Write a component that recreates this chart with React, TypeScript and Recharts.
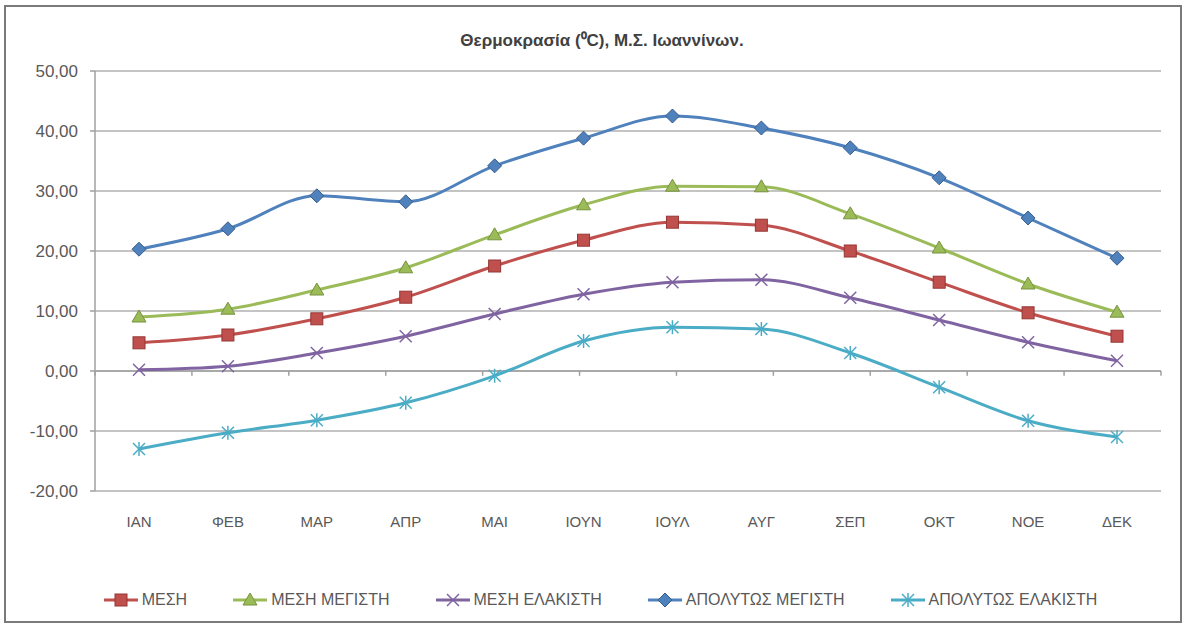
import { LineChart, Line, XAxis, YAxis, CartesianGrid, Legend, ReferenceLine } from "recharts";

const MONTHS = ["ΙΑΝ", "ΦΕΒ", "ΜΑΡ", "ΑΠΡ", "ΜΑΙ", "ΙΟΥΝ", "ΙΟΥΛ", "ΑΥΓ", "ΣΕΠ", "ΟΚΤ", "ΝΟΕ", "ΔΕΚ"];

const MESI = [4.7, 6.0, 8.7, 12.3, 17.5, 21.8, 24.8, 24.3, 20.0, 14.8, 9.7, 5.8];
const MESI_MEGISTI = [9.0, 10.3, 13.5, 17.2, 22.7, 27.7, 30.8, 30.7, 26.2, 20.5, 14.5, 9.8];
const MESI_ELAXISTI = [0.2, 0.8, 3.0, 5.8, 9.5, 12.8, 14.8, 15.2, 12.2, 8.5, 4.8, 1.7];
const APOL_MEGISTI = [20.3, 23.7, 29.2, 28.2, 34.2, 38.8, 42.5, 40.5, 37.2, 32.2, 25.5, 18.8];
const APOL_ELAXISTI = [-13.0, -10.3, -8.2, -5.3, -0.8, 5.0, 7.3, 7.0, 3.0, -2.7, -8.3, -11.0];

const Y_TICKS = [-20, -10, 0, 10, 20, 30, 40, 50];
// category boundaries on the 0 line (Excel style tick marks)
const BOUNDARIES = [0, 1, 2, 3, 4, 5, 6, 7, 8, 9, 10, 11, 12];

const SERIES = [
  { key: "mesi", name: "ΜΕΣΗ", color: "#C0504D", marker: "square" },
  { key: "mesiMax", name: "ΜΕΣΗ ΜΕΓΙΣΤΗ", color: "#9BBB59", marker: "triangle" },
  { key: "mesiMin", name: "ΜΕΣΗ ΕΛΑΚΙΣΤΗ", color: "#8064A2", marker: "x" },
  { key: "apolMax", name: "ΑΠΟΛΥΤΩΣ ΜΕΓΙΣΤΗ", color: "#4F81BD", marker: "diamond" },
  { key: "apolMin", name: "ΑΠΟΛΥΤΩΣ ΕΛΑΚΙΣΤΗ", color: "#4BACC6", marker: "star" },
];

const data = MONTHS.map((m, i) => ({
  month: m,
  mesi: MESI[i],
  mesiMax: MESI_MEGISTI[i],
  mesiMin: MESI_ELAXISTI[i],
  apolMax: APOL_MEGISTI[i],
  apolMin: APOL_ELAXISTI[i],
}));

const FONT = "'Liberation Sans', Arial, sans-serif";
const TEXT = "#595959";

function Marker({ type, color, cx, cy }: { type: string; color: string; cx: number; cy: number }) {
  if (cx == null || cy == null) return null;
  switch (type) {
    case "square":
      return <rect x={cx - 6} y={cy - 6} width={12} height={12} fill={color} stroke="#943634" strokeWidth={1} />;
    case "triangle":
      return <polygon points={`${cx},${cy - 7} ${cx + 7},${cy + 5} ${cx - 7},${cy + 5}`} fill={color} stroke="#77933C" strokeWidth={1} />;
    case "x":
      return (
        <g stroke={color} strokeWidth={1.5}>
          <line x1={cx - 6} y1={cy - 6} x2={cx + 6} y2={cy + 6} />
          <line x1={cx - 6} y1={cy + 6} x2={cx + 6} y2={cy - 6} />
        </g>
      );
    case "diamond":
      return <polygon points={`${cx},${cy - 7} ${cx + 7},${cy} ${cx},${cy + 7} ${cx - 7},${cy}`} fill={color} stroke="#385D8A" strokeWidth={1} />;
    case "star":
      return (
        <g stroke={color} strokeWidth={1.5}>
          <line x1={cx - 6} y1={cy - 6} x2={cx + 6} y2={cy + 6} />
          <line x1={cx - 6} y1={cy + 6} x2={cx + 6} y2={cy - 6} />
          <line x1={cx} y1={cy - 7} x2={cx} y2={cy + 7} />
        </g>
      );
    default:
      return null;
  }
}

const renderLegend = () => (
  <div
    style={{
      display: "flex",
      justifyContent: "center",
      alignItems: "center",
      gap: 46,
      fontFamily: FONT,
      fontSize: 16,
      color: TEXT,
      paddingLeft: 14,
    }}
  >
    {SERIES.map((s) => (
      <div key={s.key} style={{ display: "flex", alignItems: "center" }}>
        <svg width={34} height={16}>
          <line x1={0} y1={8} x2={34} y2={8} stroke={s.color} strokeWidth={3} />
          <Marker type={s.marker} color={s.color} cx={17} cy={8} />
        </svg>
        <span style={{ marginLeft: 4 }}>{s.name}</span>
      </div>
    ))}
  </div>
);

export default function App() {
  return (
    <div style={{ position: "absolute", left: 0, top: 0, width: 1187, height: 629, background: "#fff" }}>
      <div
        style={{
          position: "absolute",
          left: 4,
          top: 5,
          width: 1178,
          height: 618,
          border: "2px solid #7a7a7a",
          boxSizing: "border-box",
        }}
      />
      <div
        style={{
          position: "absolute",
          left: 0,
          top: 28,
          width: 1204,
          textAlign: "center",
          fontFamily: FONT,
          fontWeight: "bold",
          fontSize: 17,
          color: "#404040",
        }}
      >
        Θερμοκρασία (⁰C), Μ.Σ. Ιωαννίνων.
      </div>
      <LineChart width={1187} height={629} data={data} margin={{ top: 71, right: 26, left: 0, bottom: 48 }}>
        <CartesianGrid vertical={false} stroke="#b0b0b0" strokeWidth={1.5} />
        <XAxis
          dataKey="month"
          padding={{ left: 44, right: 44 }}
          axisLine={false}
          tickLine={false}
          tickMargin={19}
          height={50}
          interval={0}
          tick={{ fill: TEXT, fontSize: 15, fontFamily: FONT }}
        />
        <XAxis xAxisId="b" type="number" domain={[0, 12]} hide />
        <YAxis
          width={95}
          domain={[-20, 50]}
          ticks={Y_TICKS}
          interval={0}
          tickSize={5}
          tickMargin={12}
          axisLine={{ stroke: "#a0a0a0", strokeWidth: 1.5 }}
          tickLine={{ stroke: "#a0a0a0", strokeWidth: 1.5 }}
          tickFormatter={(v: number) => v.toFixed(2).replace(".", ",")}
          tick={{ fill: TEXT, fontSize: 17, fontFamily: FONT }}
        />
        <ReferenceLine y={0} stroke="#a0a0a0" strokeWidth={1.5} />
        {BOUNDARIES.map((b) => (
          <ReferenceLine
            key={b}
            xAxisId="b"
            segment={[{ x: b, y: 0 }, { x: b, y: -0.8 }]}
            stroke="#a0a0a0"
            strokeWidth={1.5}
            ifOverflow="visible"
          />
        ))}
        {SERIES.map((s) => (
          <Line
            key={s.key}
            dataKey={s.key}
            name={s.name}
            type="monotone"
            stroke={s.color}
            strokeWidth={3}
            isAnimationActive={false}
            dot={(p: any) => <Marker key={`${s.key}-${p.index}`} type={s.marker} color={s.color} cx={p.cx} cy={p.cy} />}
            activeDot={false}
          />
        ))}
        <Legend verticalAlign="bottom" height={40} content={renderLegend} wrapperStyle={{ top: 591, left: 0, width: 1187 }} />
      </LineChart>
    </div>
  );
}
